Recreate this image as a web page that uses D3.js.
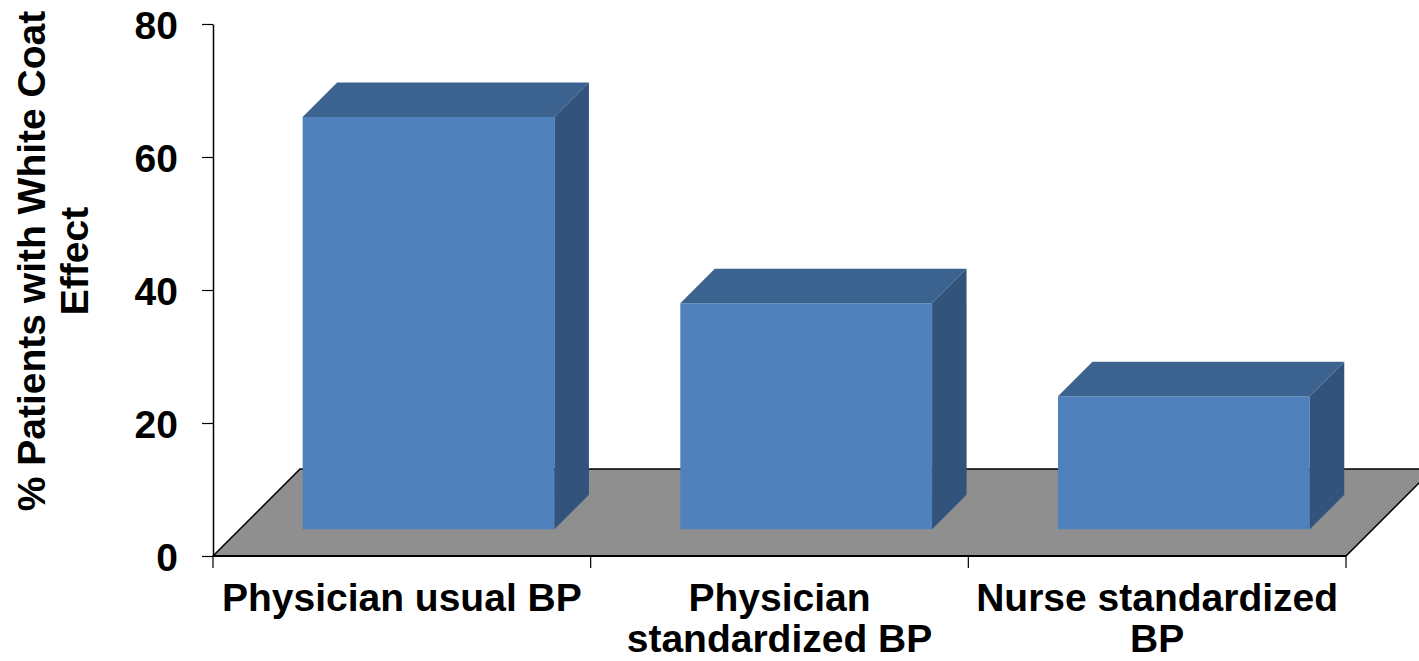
<!DOCTYPE html>
<html>
<head>
<meta charset="utf-8">
<script src="https://cdn.jsdelivr.net/npm/d3@7"></script>
<style>
  html, body { margin: 0; padding: 0; background: #fff; }
  svg { display: block; }
  text { font-family: "Liberation Sans", Arial, sans-serif; font-weight: bold; fill: #000; }
</style>
</head>
<body>
<svg id="chart" width="1419" height="661"></svg>
<script>
// Share of patients showing a white coat effect, by measurement method
const categories = ["Physician usual BP", "Physician standardized BP", "Nurse standardized BP"];
const categoryLines = [["Physician usual BP"], ["Physician", "standardized BP"], ["Nurse standardized", "BP"]];
const values = [62, 34, 20];
const yTicks = [0, 20, 40, 60, 80];
const yTitleLines = ["% Patients with White Coat", "Effect"];

const svg = d3.select("#chart");

const plot = { left: 213, right: 1346, top: 24, bottom: 556 };
const floorDepth = 87;      // oblique offset of the floor's back edge
const barFront = 26.7;      // oblique offset of bars' front faces
const barDepth = 34.5;      // depth of each bar
const fontSize = 39;

const y = d3.scaleLinear().domain([0, 80]).range([plot.bottom, plot.top]);
const x = d3.scaleBand().domain(categories).range([plot.left, plot.right])
  .paddingInner(1 / 3).paddingOuter(1 / 6);

const colors = { front: "#4F81BD", top: "#3C6390", side: "#32537B", floor: "#8F8F8F" };

// floor (oblique parallelogram)
const floorPts = [
  [plot.left, plot.bottom],
  [plot.right, plot.bottom],
  [plot.right + floorDepth, plot.bottom - floorDepth],
  [plot.left + floorDepth, plot.bottom - floorDepth]
];
svg.append("polygon")
  .attr("points", floorPts.map(p => p.join(",")).join(" "))
  .attr("fill", colors.floor)
  .attr("stroke", "#000")
  .attr("stroke-width", 1.5)
  .attr("stroke-linejoin", "miter");

// 3D bars
const bars = svg.append("g").selectAll("g").data(values).join("g");
bars.each(function (v, i) {
  const g = d3.select(this);
  const x0 = x(categories[i]) + barFront;
  const x1 = x0 + x.bandwidth();
  const yb = y(0) - barFront;
  const yt = y(v) - barFront;
  const d = barDepth;
  // front face
  g.append("polygon")
    .attr("points", [[x0, yb], [x1, yb], [x1, yt], [x0, yt]].map(p => p.join(",")).join(" "))
    .attr("fill", colors.front);
  // top face
  g.append("polygon")
    .attr("points", [[x0, yt], [x1, yt], [x1 + d, yt - d], [x0 + d, yt - d]].map(p => p.join(",")).join(" "))
    .attr("fill", colors.top);
  // right side face
  g.append("polygon")
    .attr("points", [[x1, yb], [x1 + d, yb - d], [x1 + d, yt - d], [x1, yt]].map(p => p.join(",")).join(" "))
    .attr("fill", colors.side);
});

// value axis
const yAxis = svg.append("g")
  .attr("transform", `translate(${plot.left},0)`)
  .call(d3.axisLeft(y).tickValues(yTicks).tickSize(11).tickSizeOuter(0).tickPadding(24));
yAxis.select(".domain").attr("stroke", "#000").attr("stroke-width", 1.5);
yAxis.selectAll(".tick line").attr("stroke", "#000").attr("stroke-width", 1.2);
yAxis.selectAll(".tick text")
  .attr("font-size", fontSize)
  .attr("font-family", "'Liberation Sans', Arial, sans-serif")
  .attr("font-weight", "bold")
  .attr("fill", "#000")
  .attr("dy", "0.36em");

// category axis: baseline, boundary ticks and wrapped labels
svg.append("line")
  .attr("x1", plot.left).attr("x2", plot.right)
  .attr("y1", plot.bottom).attr("y2", plot.bottom)
  .attr("stroke", "#000").attr("stroke-width", 2);
const bounds = categories.map(c => x(c) - x.step() * x.paddingOuter()).concat([plot.right]);
svg.append("g").selectAll("line").data(bounds).join("line")
  .attr("x1", d => d).attr("x2", d => d)
  .attr("y1", plot.bottom).attr("y2", plot.bottom + 12)
  .attr("stroke", "#000").attr("stroke-width", 1.2);

const labels = svg.append("g").selectAll("text").data(categories).join("text")
  .attr("text-anchor", "middle")
  .attr("font-size", fontSize)
  .attr("transform", c => `translate(${x(c) + x.bandwidth() / 2},611)`);
labels.each(function (c, i) {
  d3.select(this).selectAll("tspan").data(categoryLines[i]).join("tspan")
    .attr("x", 0)
    .attr("y", (d, k) => k * 41)
    .text(d => d);
});

// value axis title
const yTitle = svg.append("text")
  .attr("text-anchor", "middle")
  .attr("font-size", fontSize)
  .attr("transform", "translate(45,261) rotate(-90)");
yTitle.selectAll("tspan").data(yTitleLines).join("tspan")
  .attr("x", 0)
  .attr("y", (d, k) => k * 43)
  .text(d => d);
</script>
</body>
</html>
